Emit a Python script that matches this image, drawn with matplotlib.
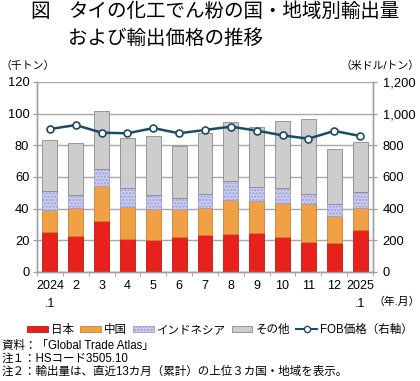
import matplotlib
matplotlib.use("Agg")
import matplotlib.pyplot as plt
from matplotlib.patches import Patch
from matplotlib.lines import Line2D
import numpy as np

plt.rcParams['font.family'] = ['Liberation Sans', 'Noto Sans CJK JP', 'DejaVu Sans']

months = ["2024\n.1", "2", "3", "4", "5", "6", "7", "8", "9", "10", "11", "12", "2025\n.1"]
japan = [25.5, 22.9, 32.2, 20.6, 20.2, 22.1, 23.4, 24.2, 24.6, 21.9, 18.9, 18.1, 26.5]
china_cum = [39.0, 40.2, 54.3, 41.3, 40.0, 39.8, 40.2, 45.7, 44.6, 43.6, 43.2, 35.6, 40.6]
indo_cum = [51.0, 48.6, 65.1, 53.1, 48.4, 46.9, 49.1, 57.5, 53.9, 53.3, 49.5, 43.2, 50.7]
total = [83.4, 81.7, 101.5, 84.6, 85.9, 79.8, 87.6, 94.9, 91.4, 95.6, 96.6, 77.7, 82.3]
fob = [903, 928, 880, 876, 909, 876, 897, 918, 893, 863, 842, 891, 859]

china = [c - j for c, j in zip(china_cum, japan)]
indo = [i - c for i, c in zip(indo_cum, china_cum)]
other = [t - i for t, i in zip(total, indo_cum)]

W, H = 420, 381
fig = plt.figure(figsize=(W / 100, H / 100), dpi=100)
ax = fig.add_axes([37 / W, 1 - 272 / H, (373 - 37) / W, (272 - 82) / H])
ax2 = ax.twinx()

x = np.arange(len(months))
bw = 0.58
c_jp, c_cn, c_id, c_ot = '#E8211C', '#F0A045', '#C9CCEE', '#CDCDCD'
ax.bar(x, japan, bw, color=c_jp, edgecolor='#C01810', linewidth=0.6, zorder=3)
ax.bar(x, china, bw, bottom=japan, color=c_cn, edgecolor='#D08030', linewidth=0.6, zorder=3)
ax.bar(x, indo, bw, bottom=china_cum, color=c_id, edgecolor='#9A9ED0', hatch='.....', linewidth=0.6, zorder=3)
ax.bar(x, other, bw, bottom=indo_cum, color=c_ot, edgecolor='#8A8A8A', linewidth=0.6, zorder=3)

line_c = '#1D4A66'
ax2.plot(x, fob, color=line_c, linewidth=1.8, marker='o', markersize=5,
         markerfacecolor='white', markeredgecolor=line_c, markeredgewidth=1.2, zorder=5)

ax.set_xlim(-0.5, len(months) - 0.5)
ax.set_ylim(0, 120)
ax2.set_ylim(0, 1200)
ax.set_yticks(range(0, 121, 20))
ax2.set_yticks(range(0, 1201, 200))
ax2.set_yticklabels([f"{v:,}" for v in range(0, 1201, 200)])
ax.yaxis.grid(True, color='#A8A8A8', linewidth=1.0, zorder=0)
ax.set_axisbelow(True)

ax.set_xticks(x)
ax.set_xticklabels(months, fontsize=9, linespacing=1.6)
ax.set_xticks(np.arange(-0.5, len(months), 1), minor=True)
ax.tick_params(axis='x', which='major', length=0, pad=6)
ax.tick_params(axis='x', which='minor', length=3, color='#999999')
ax.tick_params(axis='y', length=3, color='#999999', labelsize=9.3, pad=2.5)
ax2.tick_params(axis='y', length=3, color='#999999', labelsize=9.3, pad=4)

for a in (ax, ax2):
    for s in a.spines.values():
        s.set_color('#A0A0A0')
        s.set_linewidth(1.0)
    a.spines['top'].set_visible(False)

# Titles
fig.text(30 / W, 1 - 12 / H, "図", fontsize=14, va='center', ha='left')
fig.text(68 / W, 1 - 12 / H, "タイの化工でん粉の国・地域別輸出量", fontsize=14, va='center', ha='left')
fig.text(68 / W, 1 - 39 / H, "および輸出価格の推移", fontsize=14, va='center', ha='left')
fig.text(0 / W, 1 - 66 / H, "（千トン）", fontsize=7.8, va='center', ha='left')
fig.text(420 / W, 1 - 66 / H, "（米ドル/トン）", fontsize=7.8, va='center', ha='right')
fig.text(420 / W, 1 - 302 / H, "（年.月）", fontsize=7.8, va='center', ha='right')

handles = [Patch(facecolor=c_jp, edgecolor='#C01810', linewidth=0.6),
           Patch(facecolor=c_cn, edgecolor='#D08030', linewidth=0.6),
           Patch(facecolor=c_id, edgecolor='#9A9ED0', hatch='.....', linewidth=0.6),
           Patch(facecolor=c_ot, edgecolor='#8A8A8A', linewidth=0.6),
           Line2D([0], [0], color=line_c, linewidth=1.5, marker='o', markersize=4.5,
                  markerfacecolor='white', markeredgecolor=line_c)]
labels = ["日本", "中国", "インドネシア", "その他", "FOB価格（右軸）"]
fig.legend(handles, labels, loc='center', bbox_to_anchor=(220 / W, 1 - 330 / H), ncol=5,
           frameon=False, fontsize=8.3, handlelength=1.8, handleheight=0.45,
           handletextpad=0.3, columnspacing=0.5, borderpad=0)

notes = ["資料：「Global Trade Atlas」",
         "注１：HSコード3505.10",
         "注２：輸出量は、直近13カ月（累計）の上位３カ国・地域を表示。"]
for i, n in enumerate(notes):
    fig.text(2 / W, 1 - (346 + 13 * i) / H, n, fontsize=8.3, va='center', ha='left')

fig.savefig("out.png", dpi=100)
